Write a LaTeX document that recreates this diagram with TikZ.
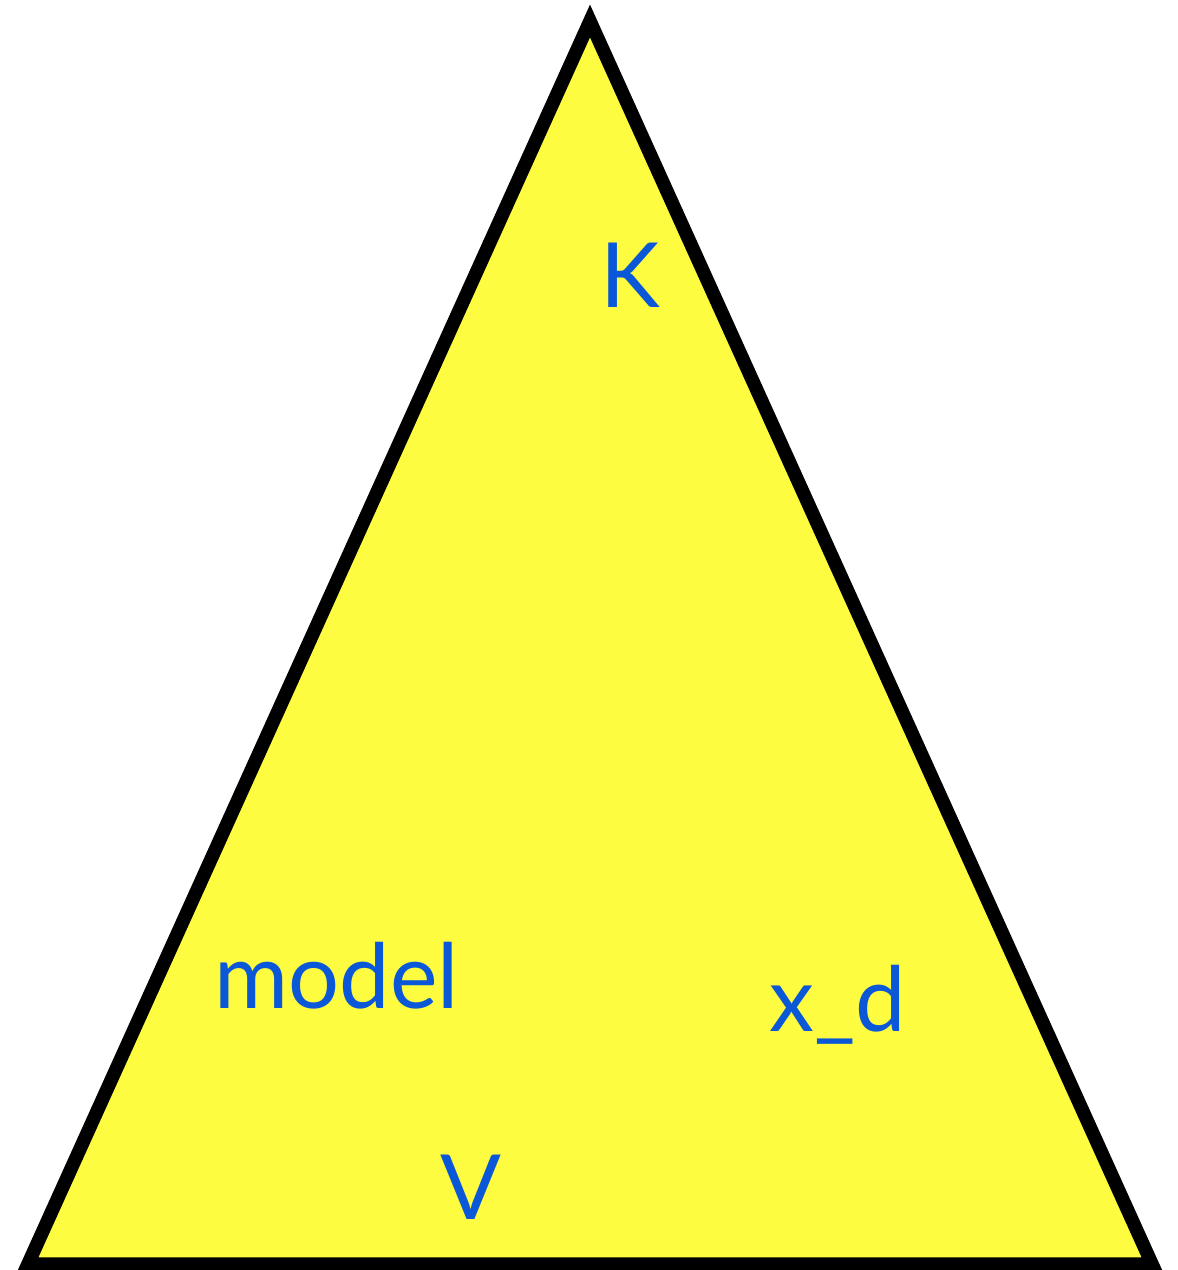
\documentclass[tikz,border=0pt]{standalone}
\usepackage{fontspec}
\setmainfont{Lato}
\usetikzlibrary{positioning}
\definecolor{triyellow}{RGB}{254,252,64}
\definecolor{labelblue}{RGB}{10,88,215}

\begin{document}
\begin{tikzpicture}[
  x=1pt,y=-1pt,
  lbl/.style={text=labelblue,font=\fontsize{90}{96}\selectfont,inner sep=0pt,anchor=base},
  tri/.style={draw=black,fill=triyellow,line width=13.5pt,line join=miter}
]
\useasboundingbox (0,0) rectangle (1178,1270);
% corners
\coordinate (top) at (590,21);
\coordinate (bl) at (28,1264);
\coordinate (br) at (1152,1264);
\draw[tri] (top) -- (br) -- (bl) -- cycle;
% labels
\node[lbl] (k) at (630,307) {K};
\node[lbl] (model) at (337,1008) {model};
\node[lbl] (xd) at (838,1031) {x\_d};
\node[lbl] (v) at (471,1219) {V};
\end{tikzpicture}
\end{document}
